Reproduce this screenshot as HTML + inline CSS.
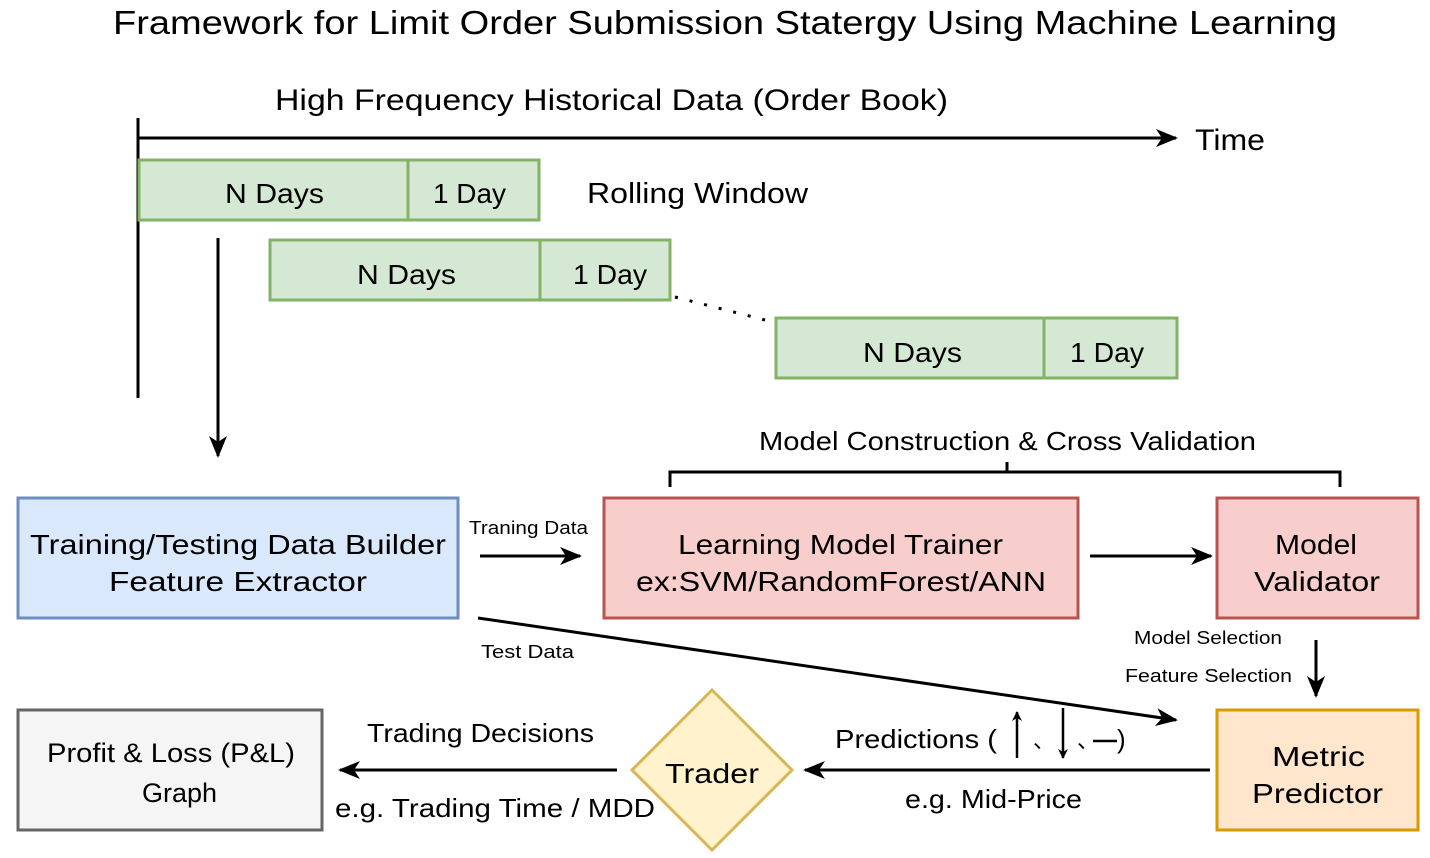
<!DOCTYPE html>
<html><head><meta charset="utf-8"><style>
html,body{margin:0;padding:0;background:#fff;}
svg{display:block;}
text{font-family:"Liberation Sans","DejaVu Sans",sans-serif;fill:#000;}
</style></head><body>
<svg width="1430" height="858" viewBox="0 0 1430 858" xmlns="http://www.w3.org/2000/svg">
<defs>
<marker id="a" markerWidth="10" markerHeight="10" refX="9" refY="5" orient="auto" markerUnits="userSpaceOnUse" viewBox="0 0 10 10">
<path d="M0,0 L10,5 L0,10 L3,5 z" fill="#000"/></marker>
<marker id="b" markerWidth="22" markerHeight="22" refX="20" refY="11" orient="auto" markerUnits="userSpaceOnUse" viewBox="0 0 22 22">
<path d="M0,2 L22,11 L0,20 L6,11 z" fill="#000"/></marker>
</defs>
<g lengthAdjust="spacingAndGlyphs">
<text x="113" y="34" font-size="33" textLength="1224" lengthAdjust="spacingAndGlyphs">Framework for Limit Order Submission Statergy Using Machine Learning</text>
<text x="275" y="110" font-size="30" textLength="673" lengthAdjust="spacingAndGlyphs">High Frequency Historical Data (Order Book)</text>
</g>
<line x1="138" y1="118" x2="138" y2="398" stroke="#000" stroke-width="3"/>
<line x1="138" y1="138" x2="1176" y2="138" stroke="#000" stroke-width="3" marker-end="url(#b)"/>
<text x="1195" y="150" font-size="30" textLength="70" lengthAdjust="spacingAndGlyphs">Time</text>
<g fill="#d5e8d4" stroke="#82b366" stroke-width="3">
<rect x="139" y="160" width="269" height="60"/><rect x="408" y="160" width="131" height="60"/>
<rect x="270" y="240" width="270" height="60"/><rect x="540" y="240" width="130" height="60"/>
<rect x="776" y="318" width="268" height="60"/><rect x="1044" y="318" width="133" height="60"/>
</g>
<g font-size="28">
<text x="225" y="203" textLength="99" lengthAdjust="spacingAndGlyphs">N Days</text><text x="433" y="203" textLength="73" lengthAdjust="spacingAndGlyphs">1 Day</text>
<text x="357" y="284" textLength="99" lengthAdjust="spacingAndGlyphs">N Days</text><text x="573" y="284" textLength="74" lengthAdjust="spacingAndGlyphs">1 Day</text>
<text x="863" y="362" textLength="99" lengthAdjust="spacingAndGlyphs">N Days</text><text x="1070" y="362" textLength="74" lengthAdjust="spacingAndGlyphs">1 Day</text>
</g>
<text x="587" y="203" font-size="29" textLength="221" lengthAdjust="spacingAndGlyphs">Rolling Window</text>
<line x1="675" y1="297" x2="765" y2="320" stroke="#000" stroke-width="3" stroke-dasharray="3,12"/>
<line x1="218" y1="238" x2="218" y2="456" stroke="#000" stroke-width="3" marker-end="url(#b)"/>
<text x="759" y="450" font-size="26" textLength="497" lengthAdjust="spacingAndGlyphs">Model Construction &amp; Cross Validation</text>
<path d="M670,487 V472 H1340 V487 M1007,472 V462" fill="none" stroke="#000" stroke-width="3"/>
<rect x="18" y="498" width="440" height="120" fill="#dae8fc" stroke="#6c8ebf" stroke-width="3"/>
<text x="30" y="554" font-size="28" textLength="416" lengthAdjust="spacingAndGlyphs">Training/Testing Data Builder</text>
<text x="109" y="591" font-size="28" textLength="258" lengthAdjust="spacingAndGlyphs">Feature Extractor</text>
<text x="469" y="534" font-size="18" textLength="119" lengthAdjust="spacingAndGlyphs">Traning Data</text>
<line x1="480" y1="556" x2="580" y2="556" stroke="#000" stroke-width="3" marker-end="url(#b)"/>
<rect x="604" y="498" width="474" height="120" fill="#f8cecc" stroke="#b85450" stroke-width="3"/>
<text x="678" y="554" font-size="28" textLength="325" lengthAdjust="spacingAndGlyphs">Learning Model Trainer</text>
<text x="636" y="591" font-size="28" textLength="410" lengthAdjust="spacingAndGlyphs">ex:SVM/RandomForest/ANN</text>
<line x1="1090" y1="556" x2="1211" y2="556" stroke="#000" stroke-width="3" marker-end="url(#b)"/>
<rect x="1217" y="498" width="201" height="120" fill="#f8cecc" stroke="#b85450" stroke-width="3"/>
<text x="1275" y="554" font-size="28" textLength="82" lengthAdjust="spacingAndGlyphs">Model</text>
<text x="1254" y="591" font-size="28" textLength="126" lengthAdjust="spacingAndGlyphs">Validator</text>
<text x="1134" y="644" font-size="18" textLength="148" lengthAdjust="spacingAndGlyphs">Model Selection</text>
<text x="1125" y="682" font-size="18" textLength="167" lengthAdjust="spacingAndGlyphs">Feature Selection</text>
<line x1="1316" y1="640" x2="1316" y2="696" stroke="#000" stroke-width="3" marker-end="url(#b)"/>
<rect x="1217" y="710" width="201" height="120" fill="#ffe6cc" stroke="#d79b00" stroke-width="3"/>
<text x="1272" y="766" font-size="28" textLength="93" lengthAdjust="spacingAndGlyphs">Metric</text>
<text x="1252" y="803" font-size="28" textLength="131" lengthAdjust="spacingAndGlyphs">Predictor</text>
<line x1="478" y1="618" x2="1176" y2="720" stroke="#000" stroke-width="3" marker-end="url(#b)"/>
<text x="481" y="658" font-size="18" textLength="93" lengthAdjust="spacingAndGlyphs">Test Data</text>
<line x1="1210" y1="770" x2="805" y2="770" stroke="#000" stroke-width="3" marker-end="url(#b)"/>
<text x="835" y="748" font-size="26" textLength="162" lengthAdjust="spacingAndGlyphs">Predictions (</text>
<line x1="1017" y1="758" x2="1017" y2="712" stroke="#000" stroke-width="2.5" marker-end="url(#a)"/>
<text x="1033" y="748" font-size="22">、</text>
<line x1="1063" y1="708" x2="1063" y2="758" stroke="#000" stroke-width="2.5" marker-end="url(#a)"/>
<text x="1077" y="748" font-size="22">、</text>
<line x1="1093" y1="741" x2="1117" y2="741" stroke="#000" stroke-width="2.5"/>
<text x="1117" y="748" font-size="26">)</text>
<text x="905" y="808" font-size="26" textLength="177" lengthAdjust="spacingAndGlyphs">e.g. Mid-Price</text>
<polygon points="712,690 792,770 712,850 632,770" fill="#fff2cc" stroke="#d6b656" stroke-width="3"/>
<text x="665" y="783" font-size="28" textLength="94" lengthAdjust="spacingAndGlyphs">Trader</text>
<line x1="617" y1="770" x2="340" y2="770" stroke="#000" stroke-width="3" marker-end="url(#b)"/>
<text x="367" y="742" font-size="26" textLength="227" lengthAdjust="spacingAndGlyphs">Trading Decisions</text>
<text x="335" y="817" font-size="26" textLength="320" lengthAdjust="spacingAndGlyphs">e.g. Trading Time / MDD</text>
<rect x="18" y="710" width="304" height="120" fill="#f5f5f5" stroke="#666666" stroke-width="3"/>
<text x="47" y="762" font-size="27" textLength="248" lengthAdjust="spacingAndGlyphs">Profit &amp; Loss (P&amp;L)</text>
<text x="142" y="802" font-size="27" textLength="75" lengthAdjust="spacingAndGlyphs">Graph</text>
</svg>
</body></html>
